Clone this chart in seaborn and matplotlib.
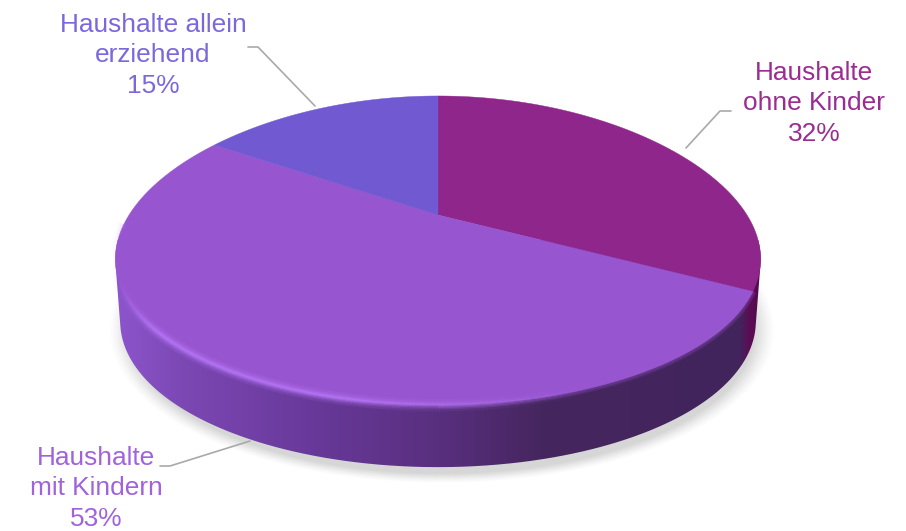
import numpy as np
import matplotlib
matplotlib.use("Agg")
import matplotlib.pyplot as plt
import seaborn as sns
from matplotlib.collections import LineCollection
from matplotlib.colors import LinearSegmentedColormap, to_rgb
from matplotlib.patches import Polygon

# Household types and their shares in percent
household_lines = ["Haushalte\nohne Kinder", "Haushalte\nmit Kindern", "Haushalte allein\nerziehend"]
shares = [32, 53, 15]
face_colors = ["#8f268c", "#9855d0", "#7159d2"]
text_colors = ["#9a2c92", "#a063dc", "#7b68dc"]
label_anchor = [(814, 72), (96, 457), (153, 24)]
leader_x = [[731, 720, 686], [160, 170, 250], [248, 258, 315]]
leader_y = [[111, 111, 148], [466, 466, 441], [47, 47, 106]]

# Tilted disc: projective mapping from the unit pie to figure pixels,
# with a slight sag towards the left and right ends of the disc
CX, CY, A, B, K, SAG = 438.0, 215.0, 314.0, 146.4, 0.23, 9.0
DEPTH = 62.0


def project(x, y):
    w = 1 + K * y
    return CX + A * x / w, CY - B * y / w + SAG * x ** 2


sns.set_theme(style="white")
plt.rcParams["font.family"] = ["Liberation Sans", "DejaVu Sans"]

fig = plt.figure(figsize=(9.06, 5.31), dpi=100)
ax = fig.add_axes([0, 0, 1, 1])

wedges, _ = ax.pie(shares, startangle=90, counterclock=False, colors=face_colors)
sectors = [(w.theta1, w.theta2) for w in wedges]
for w in wedges:
    w.remove()

t = np.linspace(0, 2 * np.pi, 721)
rx, ry = project(np.cos(t), np.sin(t))

# Soft ground shadow below the disc
for grow, alpha in zip(np.linspace(1.045, 0.985, 14), np.linspace(0.008, 0.028, 14)):
    ax.fill((rx - CX) * grow * 0.985 + CX + 4, (ry - 255) * grow + 255 + DEPTH + 9,
            color="#666666", alpha=alpha, lw=0, zorder=1)

# Side wall: silhouette of the extruded disc with a shading running left to right
wall_x = (rx[:720] - CX) * 0.985 + CX
wall_y = ry[:720] + DEPTH
sil = np.vstack([np.column_stack([rx[:720], ry[:720]]), np.column_stack([wall_x, wall_y])])
outer = []
for a in np.linspace(-np.pi, np.pi, 360, endpoint=False):
    v = np.array([np.cos(a), np.sin(a)])
    outer.append(sil[np.argmax(sil @ v)])
wall_patch = Polygon(np.array(outer), closed=True, fc="none", ec="none", zorder=2)
ax.add_patch(wall_patch)

stops = [(115, "#8d55cc"), (180, "#7c48b4"), (300, "#6a3a9c"), (440, "#582f7e"),
         (540, "#46265f"), (720, "#42245c"), (741, "#43245c"), (750, "#5c0c55"), (765, "#4e0a48")]
wall_map = LinearSegmentedColormap.from_list(
    "wall", [((x - 115) / 650, to_rgb(c)) for x, c in stops])
grad = np.linspace(0, 1, 651).reshape(1, -1)
wall = ax.imshow(grad, extent=(115, 766, 490, 240), cmap=wall_map, aspect="auto",
                 interpolation="bilinear", vmin=0, vmax=1, zorder=2)
wall.set_clip_path(wall_patch)

# Top face, one polygon per household type
for (t1, t2), color in zip(sectors, face_colors):
    th = np.radians(np.linspace(t1, t2, 240))
    px, py = project(np.cos(th), np.sin(th))
    ox, oy = project(0.0, 0.0)
    ax.add_patch(Polygon(np.column_stack([np.r_[ox, px], np.r_[oy, py]]), closed=True,
                         fc=color, ec=color, lw=0.3, zorder=3))

# Blurred boundary between the top face and the wall on the front-right
arc = np.radians(np.linspace(270, 335, 160))
ex, ey = project(np.cos(arc), np.sin(arc))
for width, strength in [(5, 0.14), (3, 0.22)]:
    ax.plot(ex, ey + 0.5, color="#9855d0", alpha=strength, lw=width, zorder=2.5,
            solid_capstyle="butt")

# Bright bevel along the front-left rim, fading towards the right
arc = np.radians(np.linspace(180, 300, 300))
ex, ey = project(np.cos(arc), np.sin(arc))
pts = np.column_stack([ex, ey])
segs = np.stack([pts[:-1], pts[1:]], axis=1)
mid = 0.5 * (ex[:-1] + ex[1:])
fade = np.clip((mid - 115) / 40, 0, 1) * np.clip((600 - mid) / 260, 0, 1)
for width, strength in [(9, 0.14), (6, 0.2), (3.8, 0.3), (2, 0.45)]:
    rgba = np.zeros((len(mid), 4))
    rgba[:, :3] = to_rgb("#bd7dff")
    rgba[:, 3] = fade * strength
    ax.add_collection(LineCollection(segs, colors=rgba, linewidths=width, zorder=4))

# Leader lines and labels
for lx, ly in zip(leader_x, leader_y):
    ax.plot(lx, ly, color="#a9a9a9", lw=1.2, zorder=5, solid_joinstyle="round")
for name, share, color, (tx, ty) in zip(household_lines, shares, text_colors, label_anchor):
    ax.text(tx, ty - 11, f"{name}\n{share}%", color=color, fontsize=18.9, ha="center", va="top",
            multialignment="center", linespacing=1.33, zorder=6)

ax.set_aspect("auto")
ax.set_xlim(0, 906)
ax.set_ylim(531, 0)
ax.axis("off")

fig.savefig("out.png", dpi=100)
